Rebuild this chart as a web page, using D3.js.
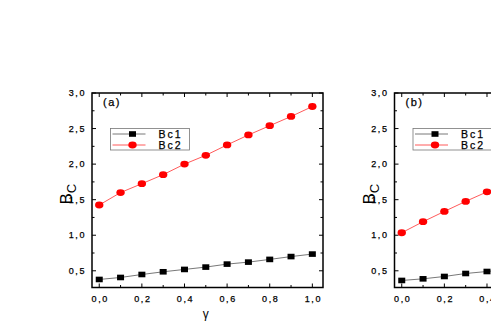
<!DOCTYPE html>
<html>
<head>
<meta charset="utf-8">
<script src="https://cdn.jsdelivr.net/npm/d3@7"></script>
<style>
  body { margin: 0; background: #fff; }
  svg { display: block; font-family: "Liberation Sans", Arial, sans-serif; }
  .lbl { stroke: #000; stroke-width: 0.25; }
</style>
</head>
<body>
<div id="chart"></div>
<script>
const gamma = [0, 0.1, 0.2, 0.3, 0.4, 0.5, 0.6, 0.7, 0.8, 0.9, 1.0];
const bc1A = [0.378, 0.406, 0.448, 0.486, 0.519, 0.552, 0.594, 0.622, 0.66, 0.70, 0.735];
const bc2A = [1.425, 1.60, 1.725, 1.852, 2.0, 2.124, 2.27, 2.41, 2.54, 2.67, 2.81];
const bc1B = [0.364, 0.387, 0.42, 0.462, 0.49, 0.52, 0.55, 0.58, 0.61, 0.64, 0.67];
const bc2B = [1.035, 1.19, 1.335, 1.476, 1.61, 1.75, 1.89, 2.03, 2.17, 2.31, 2.45];
const yTicks = [0.5, 1.0, 1.5, 2.0, 2.5, 3.0];
const xTicks = [0, 0.2, 0.4, 0.6, 0.8, 1.0];
const seriesNames = ["Bc1", "Bc2"];

const W = 491, H = 327;
const fmt = d => d3.format(".1f")(d).replace(".", ",");

const svg = d3.select("#chart").append("svg")
    .attr("width", W).attr("height", H)
    .attr("viewBox", [0, 0, W, H]);

const panels = [
    { label: "(a)", left: 92, b1: bc1A, b2: bc2A },
    { label: "(b)", left: 394.5, b1: bc1B, b2: bc2B }
];

const plotTop = 93, plotBottom = 287.5, plotW = 231;

panels.forEach(p => {
    const x = d3.scaleLinear().domain([-0.034, 1.05]).range([p.left, p.left + plotW]);
    const y = d3.scaleLinear().domain([0.265, 3.0]).range([plotBottom, plotTop]);
    const g = svg.append("g");

    // clip so lines and markers stay in the frame
    const clipId = "clip" + p.label.replace(/\W/g, "");
    g.append("clipPath").attr("id", clipId)
        .append("rect").attr("x", p.left).attr("y", plotTop - 5)
        .attr("width", plotW).attr("height", plotBottom - plotTop + 10);

    // ticks (all inward)
    const yMinor = d3.range(0.25, 3.01, 0.25).filter(v => v > 0.265);
    const xMinor = d3.range(0, 1.001, 0.1);
    const tickG = g.append("g").attr("stroke", "#000").attr("stroke-width", 1);
    yMinor.forEach(v => {
        const major = yTicks.some(t => Math.abs(t - v) < 1e-6);
        const len = major ? 4 : 2.5;
        tickG.append("line").attr("x1", x.range()[0]).attr("x2", x.range()[0] + len)
            .attr("y1", y(v)).attr("y2", y(v));
        tickG.append("line").attr("x1", x.range()[1]).attr("x2", x.range()[1] - len)
            .attr("y1", y(v)).attr("y2", y(v));
    });
    xMinor.forEach(v => {
        const major = xTicks.some(t => Math.abs(t - v) < 1e-6);
        const len = major ? 4 : 2.5;
        tickG.append("line").attr("x1", x(v)).attr("x2", x(v))
            .attr("y1", plotBottom).attr("y2", plotBottom - len);
        tickG.append("line").attr("x1", x(v)).attr("x2", x(v))
            .attr("y1", plotTop).attr("y2", plotTop + len);
    });

    // tick labels
    g.append("g").selectAll("text").data(yTicks).join("text")
        .attr("class", "lbl")
        .attr("x", p.left - 6).attr("y", d => y(d) + 3.2)
        .attr("text-anchor", "end").attr("font-size", 9)
        .attr("letter-spacing", 1.6)
        .text(fmt);
    g.append("g").selectAll("text").data(xTicks).join("text")
        .attr("class", "lbl")
        .attr("x", d => x(d) + 1).attr("y", plotBottom + 14)
        .attr("text-anchor", "middle").attr("font-size", 9)
        .attr("letter-spacing", 1.6)
        .text(fmt);

    // data lines and markers
    const line = d3.line().x((d, i) => x(gamma[i])).y(d => y(d));
    const dg = g.append("g").attr("clip-path", `url(#${clipId})`);
    dg.append("path").attr("d", line(p.b1)).attr("fill", "none")
        .attr("stroke", "#555").attr("stroke-width", 0.8);
    dg.append("path").attr("d", line(p.b2)).attr("fill", "none")
        .attr("stroke", "#ff3030").attr("stroke-width", 0.8);
    dg.selectAll(".sq").data(p.b1).join("rect").attr("class", "sq")
        .attr("x", (d, i) => x(gamma[i]) - 3.5).attr("y", d => y(d) - 2.8)
        .attr("width", 7).attr("height", 5.6).attr("fill", "#000");
    dg.selectAll(".ci").data(p.b2).join("ellipse").attr("class", "ci")
        .attr("cx", (d, i) => x(gamma[i])).attr("cy", d => y(d))
        .attr("rx", 4.2).attr("ry", 3.4).attr("fill", "#ff0000");

    // frame
    g.append("rect").attr("x", p.left).attr("y", plotTop)
        .attr("width", plotW).attr("height", plotBottom - plotTop)
        .attr("fill", "none").attr("stroke", "#000").attr("stroke-width", 1.5);

    // panel label
    g.append("text").attr("class", "lbl").attr("x", p.left + 11).attr("y", plotTop + 13)
        .attr("font-size", 11).attr("letter-spacing", 1.5).text(p.label);

    // legend
    const lx = p.left + 18.5, ly = 128.5;
    const lg = g.append("g");
    lg.append("rect").attr("x", lx).attr("y", ly).attr("width", 79).attr("height", 21.5)
        .attr("fill", "#fff").attr("stroke", "#777").attr("stroke-width", 0.8);
    seriesNames.forEach((name, i) => {
        const cy = ly + 5.5 + i * 11;
        lg.append("line").attr("x1", lx + 2).attr("x2", lx + 35).attr("y1", cy).attr("y2", cy)
            .attr("stroke", i === 0 ? "#555" : "#ff3030").attr("stroke-width", 0.8);
        if (i === 0) {
            lg.append("rect").attr("x", lx + 22 - 3.5).attr("y", cy - 2.8)
                .attr("width", 7).attr("height", 5.6).attr("fill", "#000");
        } else {
            lg.append("ellipse").attr("cx", lx + 22).attr("cy", cy)
                .attr("rx", 4.2).attr("ry", 3.4).attr("fill", "#ff0000");
        }
        lg.append("text").attr("class", "lbl").attr("x", lx + 48).attr("y", cy + 3.6)
            .attr("font-size", 10.5).attr("letter-spacing", 2).text(name);
    });

    // axis titles
    const yt = g.append("text")
        .attr("transform", `translate(${p.left - 20},${(plotTop + plotBottom) / 2 + 4}) rotate(-90)`)
        .attr("text-anchor", "middle").attr("font-size", 17);
    yt.append("tspan").text("B");
    yt.append("tspan").attr("font-size", 13).attr("dy", 4).text("C");

    g.append("text").attr("x", x(0.5)).attr("y", plotBottom + 30)
        .attr("text-anchor", "middle").attr("font-size", 12).text("γ");
});
</script>
</body>
</html>
